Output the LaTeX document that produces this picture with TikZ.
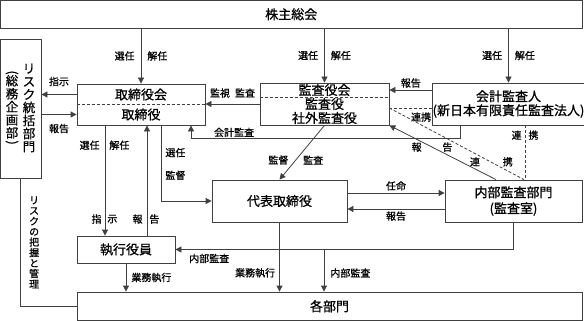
\documentclass[tikz,border=0pt]{standalone}
\usepackage{fontspec}
\setmainfont{Noto Sans CJK JP}[FakeBold=0.8]
\usepackage{graphicx}
\usetikzlibrary{arrows.meta, positioning}
\definecolor{linegray}{HTML}{404040}

\begin{document}
\begin{tikzpicture}[x=1pt, y=-1pt,
    box/.style={draw=linegray, line width=0.8pt, inner sep=0pt, align=center, font=\fontsize{13}{14}\selectfont},
    lbl/.style={inner sep=1pt, font=\fontsize{10}{11}\selectfont},
    vlbl/.style={inner sep=1pt, align=center, font=\fontsize{10}{10.5}\selectfont},
    vtxt/.style={inner sep=0pt, align=center, font=\fontsize{12.5}{13}\selectfont},
    arr/.style={-{Triangle[length=6pt, width=6pt]}, draw=linegray, line width=0.8pt},
    link/.style={draw=linegray, line width=0.8pt},
    dashline/.style={draw=linegray, line width=0.8pt, dash pattern=on 3pt off 2pt},
]
\useasboundingbox (0,0) rectangle (584,321);

% Shareholders meeting
\node[box, minimum width=581.5pt, minimum height=27.5pt] (gm) at (291.25,14.25) {株主総会};

% Risk management department (vertical text)
\node[box, minimum width=40.5pt, minimum height=139pt] (risk) at (20.75,108.5) {};
\node[vtxt] (riskname) at (29,108) {リ\\ス\\ク\\統\\括\\部\\門};
\node[vtxt] (risksub) at (12,108.5) {\rotatebox[origin=c]{-90}{(}\\[-4pt]総\\務\\企\\画\\部\\[-4pt]\rotatebox[origin=c]{-90}{)}};

% Board, audit board, accountant
\node[box, minimum width=128pt, minimum height=41pt, font=\fontsize{13}{20}\selectfont] (board) at (141,104.5) {取締役会\\取締役};
\draw[dashline] (board.west) -- (board.east);
\node[box, minimum width=129pt, minimum height=42pt] (kansa) at (324.5,104) {監査役会\\監査役\\社外監査役};
\draw[dashline] ([yshift=7pt]kansa.west) -- ([yshift=7pt]kansa.east);
\node[box, minimum width=147pt, minimum height=42pt] (kaikei) at (508.5,104) {会計監査人\\(新日本有限責任監査法人)};

% Executive side
\node[box, minimum width=135pt, minimum height=42pt] (ceo) at (279.5,201) {代表取締役};
\node[box, minimum width=137pt, minimum height=42pt, font=\fontsize{13}{16}\selectfont] (naibu) at (513.5,201) {内部監査部門\\(監査室)};
\node[box, minimum width=98pt, minimum height=27pt] (shikko) at (126,249.5) {執行役員};
\node[box, minimum width=505pt, minimum height=28.5pt] (dept) at (329.5,306.25) {各部門};

% Elections by shareholders
\draw[arr] (board.north |- gm.south) -- node[lbl, left=5pt]{選任} node[lbl, right=5pt]{解任} (board.north);
\draw[arr] (kansa.north |- gm.south) -- node[lbl, left=5pt]{選任} node[lbl, right=5pt]{解任} (kansa.north);
\draw[arr] (kaikei.north |- gm.south) -- node[lbl, left=5pt]{選任} node[lbl, right=5pt]{解任} (kaikei.north);

% Board <-> risk department
\draw[arr] ([yshift=10pt]board.west) -- node[lbl, above=7pt]{指示} ([yshift=10pt]board.west -| risk.east);
\draw[arr] ([yshift=-10pt]board.west -| risk.east) -- node[lbl, below=8pt]{報告} ([yshift=-10pt]board.west);

% Audit board -> board
\draw[arr] (kansa.west) -- node[lbl, above=5pt]{監視\hspace{5pt}監査} (kansa.west -| board.east);

% Accountant -> audit board, board
\draw[arr] ([yshift=14pt]kaikei.west) -- node[lbl, above=1pt]{報告} ([yshift=14pt]kaikei.west -| kansa.east);
\draw[dashline] ([yshift=-4pt]kaikei.west) -- node[lbl, below=3pt, pos=.26]{連携} ([yshift=-4pt]kaikei.west -| kansa.east);
\draw[arr] ([xshift=28pt]kaikei.south west) -- ++(0,13) -| node[lbl, above=0pt, pos=.42]{会計監査} ([xshift=50pt]board.south);

% Board -> executive officers
\draw[arr] ([xshift=-36pt]board.south) -- node[lbl, pos=.18, left=4pt]{選任} node[lbl, pos=.18, right=3pt]{解任}
    node[lbl, pos=.85, left=2pt]{指} node[lbl, pos=.85, right=1pt]{示} ([xshift=-36pt]board.south |- shikko.north);
\draw[arr] ([xshift=6pt]board.south |- shikko.north) -- node[lbl, pos=.15, left=3pt]{報} node[lbl, pos=.15, right=1pt]{告} ([xshift=6pt]board.south);

% Board, audit board -> CEO
\draw[arr] ([xshift=20pt]board.south) |- node[lbl, pos=.18, right=3pt]{選任} node[lbl, pos=.33, right=3pt]{監督} (ceo.west);
\draw[arr] (kansa.south) -- node[lbl, pos=.64, left=6pt]{監督} node[lbl, pos=.64, right=6pt]{監査} (ceo.north);

% CEO <-> internal audit
\draw[arr] ([yshift=8pt]ceo.east) -- node[lbl, above=1pt]{任命} ([yshift=8pt]ceo.east -| naibu.west);
\draw[arr] ([yshift=-8pt]ceo.east -| naibu.west) -- node[lbl, below=1pt]{報告} ([yshift=-8pt]ceo.east);

% Internal audit <-> auditors
\draw[arr] ([xshift=-17.5pt]naibu.north) -- node[lbl, pos=.6, left=9pt]{報} node[lbl, pos=.6, right=9pt]{告} (kansa.south east);
\draw[dashline] ([yshift=-4pt]kansa.east) -- node[lbl, pos=.75, left=9pt]{連} node[lbl, pos=.75, right=11pt]{携} ([xshift=10.5pt]naibu.north);
\draw[dashline] ([xshift=16.5pt]kaikei.south) -- node[lbl, pos=.18, left=2pt]{連} node[lbl, pos=.18, right=2pt]{携} ([xshift=16.5pt]kaikei.south |- naibu.north);

% Internal audit -> executives, departments
\draw[arr] (naibu.south) |- node[lbl, pos=.95, below=3pt]{内部監査} (shikko.east);
\draw[arr] ([xshift=44.5pt]ceo.south |- shikko.east) -- node[lbl, pos=.56, right=5pt]{内部監査} ([xshift=44.5pt]ceo.south |- dept.north);

% Business execution
\draw[arr] (shikko.south) -- node[lbl, right=4pt]{業務執行} (shikko.south |- dept.north);
\draw[arr] (ceo.south) -- node[lbl, pos=.73, left=3pt]{業務執行} (ceo.south |- dept.north);

% Risk control line
\draw[link] (risk.south) |- node[vlbl, pos=.25, right=7pt]{リ\\ス\\ク\\の\\把\\握\\と\\管\\理} (dept.west);

\end{tikzpicture}
\end{document}
